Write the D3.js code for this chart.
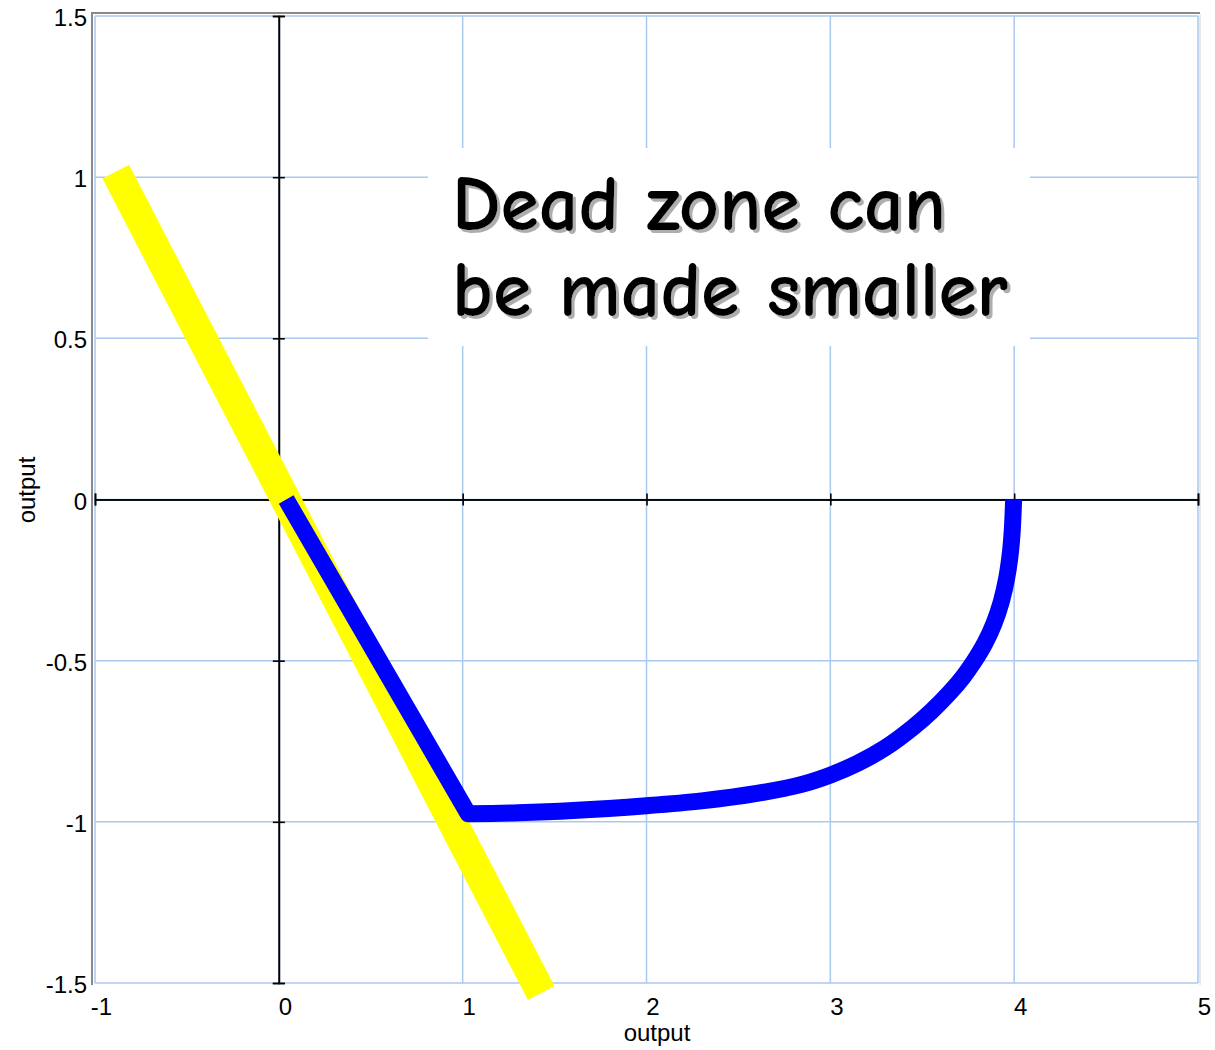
<!DOCTYPE html>
<html>
<head>
<meta charset="utf-8">
<script src="https://cdn.jsdelivr.net/npm/d3@7"></script>
<style>
  html, body { margin: 0; padding: 0; background: #fff; }
  svg { display: block; }
  .tick text { font-family: Arial, "Liberation Sans", sans-serif; }
</style>
</head>
<body>
<svg id="chart" width="1215" height="1050"></svg>
<script>
// Axis ticks
const xTicks = [-1, 0, 1, 2, 3, 4, 5];
const yTicks = [-1.5, -1, -0.5, 0, 0.5, 1, 1.5];

// Ideal (straight) characteristic, drawn as a wide yellow band
const idealX = [-0.887, 1.427];
const idealY = [1.017, -1.531];

// Compensated characteristic with a smaller dead zone
const deadX = [0.04, 1.03, 1.3, 1.6, 2.0, 2.3, 2.6, 2.85, 3.0, 3.15, 3.3, 3.45, 3.55, 3.65, 3.72, 3.78, 3.84, 3.89, 3.93, 3.96, 3.98, 3.99, 3.997];
const deadY = [0, -0.975, -0.972, -0.965, -0.950, -0.935, -0.912, -0.883, -0.855, -0.818, -0.77, -0.707, -0.657, -0.599, -0.552, -0.504, -0.447, -0.385, -0.317, -0.242, -0.162, -0.092, 0];

const noteLines = ["Dead zone can", "be made smaller"];
const axisTitle = "output";

const svg = d3.select("#chart");
const x = d3.scaleLinear().domain([-1, 5]).range([95, 1198]);
const y = d3.scaleLinear().domain([-1.5, 1.5]).range([983, 16]);

// Soft drop shadow for the annotation
const defs = svg.append("defs");
defs.append("filter").attr("id", "noteShadow")
  .attr("x", "-5%").attr("y", "-10%").attr("width", "110%").attr("height", "130%")
  .append("feDropShadow")
  .attr("dx", 3).attr("dy", 3).attr("stdDeviation", 0.6)
  .attr("flood-color", "#9a9a9a").attr("flood-opacity", 0.8);

// Grid
const grid = svg.append("g").attr("stroke", "#a9c9ee").attr("stroke-width", 1.5);
grid.selectAll("line.v").data(xTicks).join("line")
  .attr("x1", d => x(d)).attr("x2", d => x(d))
  .attr("y1", y(1.5)).attr("y2", y(-1.5));
grid.selectAll("line.h").data(yTicks).join("line")
  .attr("x1", x(-1)).attr("x2", x(5))
  .attr("y1", d => y(d)).attr("y2", d => y(d));

// Frame
svg.append("line").attr("x1", 92).attr("x2", 92).attr("y1", 13).attr("y2", 985)
  .attr("stroke", "#8a8a8a").attr("stroke-width", 2);
svg.append("line").attr("x1", 91).attr("x2", 1200).attr("y1", 13).attr("y2", 13)
  .attr("stroke", "#8a8a8a").attr("stroke-width", 2);
svg.append("line").attr("x1", 1200).attr("x2", 1200).attr("y1", 14).attr("y2", 985)
  .attr("stroke", "#e2e2e2").attr("stroke-width", 1.5);

// Annotation box
svg.append("rect").attr("x", 428).attr("y", 148).attr("width", 602).attr("height", 198)
  .attr("fill", "#fff");

// Black axes through the origin, ticks on both sides
const axY = svg.append("g").attr("transform", `translate(${x(0)},0)`);
axY.append("g").call(d3.axisLeft(y).tickValues(yTicks).tickSize(6).tickFormat(""));
axY.append("g").call(d3.axisRight(y).tickValues(yTicks).tickSize(6).tickFormat(""));
const axX = svg.append("g").attr("transform", `translate(0,${y(0)})`);
axX.append("g").call(d3.axisTop(x).tickValues(xTicks).tickSize(6).tickFormat(""));
axX.append("g").call(d3.axisBottom(x).tickValues(xTicks).tickSize(6).tickFormat(""));
svg.selectAll(".domain, .tick line").attr("stroke", "#000").attr("stroke-width", 1.6);

// Tick labels around the plot
const fmt = d => d3.format("")(d).replace("−", "-");
const yLab = svg.append("g").attr("transform", "translate(92,0)")
  .call(d3.axisLeft(y).tickValues(yTicks).tickSize(0).tickPadding(5).tickFormat(fmt));
yLab.select(".domain").remove();
yLab.selectAll("text").attr("font-size", 24).attr("fill", "#000").attr("dy", "0.4em");

const xLab = svg.append("g").attr("transform", "translate(6,983)")
  .call(d3.axisBottom(x).tickValues(xTicks).tickSize(0).tickPadding(15).tickFormat(fmt));
xLab.select(".domain").remove();
xLab.selectAll("text").attr("font-size", 24).attr("fill", "#000");

// Axis titles
svg.append("text").attr("x", 657).attr("y", 1041).attr("text-anchor", "middle")
  .attr("font-family", "Arial, 'Liberation Sans', sans-serif").attr("font-size", 24)
  .text(axisTitle);
svg.append("text").attr("transform", "translate(35,490) rotate(-90)").attr("text-anchor", "middle")
  .attr("font-family", "Arial, 'Liberation Sans', sans-serif").attr("font-size", 24)
  .text(axisTitle);

// Ideal characteristic
const line = d3.line().x(d => x(d[0])).y(d => y(d[1]));
svg.append("path").datum(d3.zip(idealX, idealY))
  .attr("d", line).attr("fill", "none").attr("stroke", "#ffff00")
  .attr("stroke-width", 30).attr("stroke-linecap", "butt");

// Compensated characteristic: straight drop to the corner, then a smooth bend
const deadPts = d3.zip(deadX, deadY);
const straight = d3.line().x(d => x(d[0])).y(d => y(d[1]))(deadPts.slice(0, 2));
const bend = d3.line().x(d => x(d[0])).y(d => y(d[1])).curve(d3.curveCatmullRom.alpha(0.5))(deadPts.slice(1));
svg.append("path")
  .attr("d", straight + bend.replace(/^M/, "L"))
  .attr("fill", "none").attr("stroke", "#0000ff")
  .attr("stroke-width", 17).attr("stroke-linecap", "butt").attr("stroke-linejoin", "round");

// Annotation text
const noteFont = "'Comic Sans MS', 'Comic Neue', 'Open Sans', sans-serif";
const noteY = [230, 316];
const noteW = [494, 556];
const note = svg.append("g").attr("filter", "url(#noteShadow)");
noteLines.forEach((t, i) => {
  note.append("text")
    .attr("x", 452).attr("y", noteY[i])
    .attr("font-family", noteFont).attr("font-size", 78).attr("font-weight", 600)
    .attr("fill", "#000")
    .attr("textLength", noteW[i]).attr("lengthAdjust", "spacingAndGlyphs")
    .text(t);
});
</script>
</body>
</html>
